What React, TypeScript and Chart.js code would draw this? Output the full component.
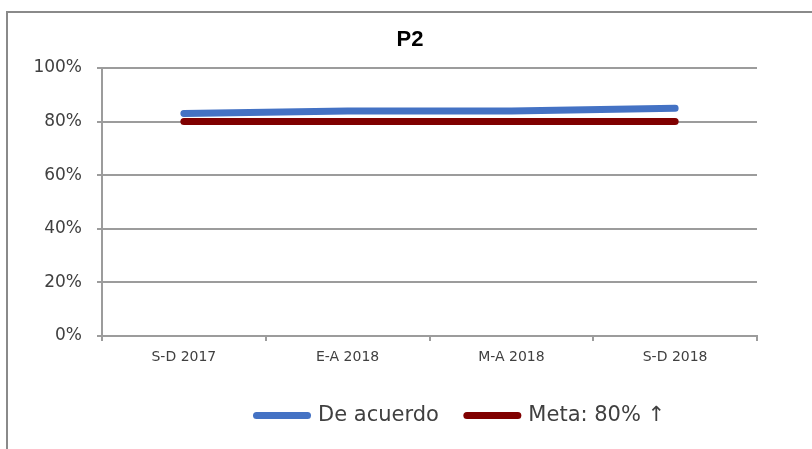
import React, { useEffect, useRef } from "react";
import { Chart, registerables } from "chart.js";

Chart.register(...registerables);

const categories = ["S-D 2017", "E-A 2018", "M-A 2018", "S-D 2018"];
const deAcuerdo = [83, 84, 84, 85];
const meta = [80, 80, 80, 80];
const seriesNames = ["De acuerdo", "Meta: 80% \u2191"];
const seriesColors = ["#4472C4", "#800000"];
const yMin = 0;
const yMax = 100;
const yStep = 20;

const TEXT = "#404040";
const GRID = "#9c9c9c";
const FONT = '"DejaVu Sans", sans-serif';

const placeBoxes = {
  id: "placeBoxes",
  afterLayout(chart: any) {
    const t = chart.titleBlock;
    if (t) {
      t.left = 110;
      t.right = 710;
    }
    const l = chart.legend;
    if (l) {
      const w = l.right - l.left;
      l.left = 228.5;
      l.right = 228.5 + w;
    }
  },
};

export default function App() {
  const ref = useRef<HTMLCanvasElement | null>(null);

  useEffect(() => {
    if (!ref.current) return;
    const defaultLabels = (Chart.defaults as any).plugins.legend.labels.generateLabels;
    const chart = new Chart(ref.current, {
      type: "line",
      data: {
        labels: categories,
        datasets: [
          {
            label: seriesNames[0],
            data: deAcuerdo,
            borderColor: seriesColors[0],
            backgroundColor: seriesColors[0],
            borderWidth: 7,
            borderCapStyle: "round",
            borderJoinStyle: "round",
            pointRadius: 0,
            pointHoverRadius: 0,
            tension: 0,
            fill: false,
          },
          {
            label: seriesNames[1],
            data: meta,
            borderColor: seriesColors[1],
            backgroundColor: seriesColors[1],
            borderWidth: 7,
            borderCapStyle: "round",
            borderJoinStyle: "round",
            pointRadius: 0,
            pointHoverRadius: 0,
            tension: 0,
            fill: false,
          },
        ],
      },
      options: {
        animation: false,
        responsive: false,
        events: [],
        layout: { padding: { top: 10, left: 0, right: 55, bottom: 13 } },
        plugins: {
          title: {
            display: true,
            text: "P2",
            color: "#000000",
            font: { family: '"Liberation Sans", Arial, sans-serif', size: 22, weight: "bold", lineHeight: 1.2 },
            padding: { top: 17, bottom: 14.6 },
          },
          legend: {
            display: true,
            position: "bottom",
            align: "start",
            labels: {
              usePointStyle: true,
              pointStyle: "line",
              pointStyleWidth: 51,
              boxHeight: 21,
              padding: 28,
              color: TEXT,
              font: { family: FONT, size: 21 },
              generateLabels: (c: any) =>
                defaultLabels(c).map((item: any, i: number) => ({
                  ...item,
                  lineCap: "round",
                  lineWidth: 7,
                  strokeStyle: seriesColors[i],
                  fillStyle: seriesColors[i],
                })),
            },
          },
          tooltip: { enabled: false },
        },
        scales: {
          x: {
            type: "category",
            offset: true,
            grid: {
              offset: true,
              drawOnChartArea: false,
              drawTicks: true,
              tickLength: 5,
              color: GRID,
              lineWidth: 2,
            },
            border: { display: true, color: GRID, width: 2 },
            ticks: {
              color: TEXT,
              font: { family: FONT, size: 14 },
              padding: 8,
              maxRotation: 0,
            },
            afterFit: (s: any) => {
              s.height = 41;
            },
          },
          y: {
            min: yMin,
            max: yMax,
            grid: {
              drawOnChartArea: true,
              drawTicks: true,
              tickLength: 5,
              color: GRID,
              lineWidth: 2,
            },
            border: { display: true, color: GRID, width: 2 },
            ticks: {
              stepSize: yStep,
              color: TEXT,
              font: { family: FONT, size: 17 },
              padding: 15,
              callback: (v: any) => v + "%",
            },
            afterFit: (s: any) => {
              s.width = 102;
            },
          },
        },
      },
      plugins: [placeBoxes],
    });
    return () => chart.destroy();
  }, []);

  return (
    <div>
      <div
        style={{
          position: "fixed",
          left: 6,
          top: 11,
          right: 0,
          bottom: 0,
          borderLeft: "2px solid #8a8a8a",
          borderTop: "2px solid #8a8a8a",
          background: "#ffffff",
        }}
      />
      <div style={{ position: "fixed", left: 0, top: 0, width: 812, height: 449 }}>
        <canvas ref={ref} width={812} height={449} style={{ display: "block" }} />
      </div>
    </div>
  );
}
